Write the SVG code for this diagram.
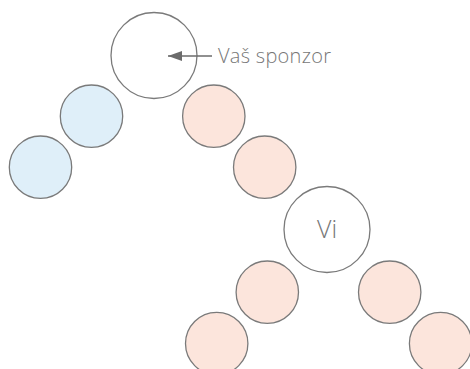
<svg xmlns="http://www.w3.org/2000/svg" width="470" height="369" viewBox="0 0 470 369">
<defs>
<style>
.big{fill:#ffffff;stroke:#7a7a7a;stroke-width:1.3}
.blue{fill:#dfeff9;stroke:#7a7a7a;stroke-width:1.3}
.peach{fill:#fce5dc;stroke:#7a7a7a;stroke-width:1.3}
.lbl{font-family:"Open Sans","Liberation Sans",sans-serif;font-weight:300;fill:#777777}
</style>
<marker id="ah" viewBox="0 0 14 10" refX="14" refY="5" markerWidth="14" markerHeight="10" markerUnits="userSpaceOnUse" orient="auto">
<path d="M0,0 L14,5 L0,10 Z" fill="#6b6b6b"/>
</marker>
</defs>
<rect width="470" height="369" fill="#ffffff"/>
<g id="sponsor"><circle class="big" cx="154" cy="55.5" r="43"/></g>
<g id="b1"><circle class="blue" cx="91.5" cy="116.2" r="31.2"/></g>
<g id="b2"><circle class="blue" cx="40.5" cy="167.2" r="31.2"/></g>
<g id="p1"><circle class="peach" cx="213.8" cy="116.2" r="31.2"/></g>
<g id="p2"><circle class="peach" cx="264.7" cy="167.2" r="31.2"/></g>
<g id="vi"><circle class="big" cx="327" cy="229.5" r="43"/><text class="lbl" x="327" y="237.5" font-size="25" text-anchor="middle">Vi</text></g>
<g id="p3"><circle class="peach" cx="267.3" cy="292.2" r="31.2"/></g>
<g id="p4"><circle class="peach" cx="389.7" cy="292.2" r="31.2"/></g>
<g id="p5"><circle class="peach" cx="216.7" cy="343.6" r="31.2"/></g>
<g id="p6"><circle class="peach" cx="440.6" cy="343.6" r="31.2"/></g>
<g id="connectors"><line x1="212" y1="56" x2="168" y2="56" stroke="#6b6b6b" stroke-width="1.3" marker-end="url(#ah)"/></g>
<g id="label"><text class="lbl" x="218" y="62.5" font-size="20" textLength="113" lengthAdjust="spacing">Vaš sponzor</text></g>
</svg>
